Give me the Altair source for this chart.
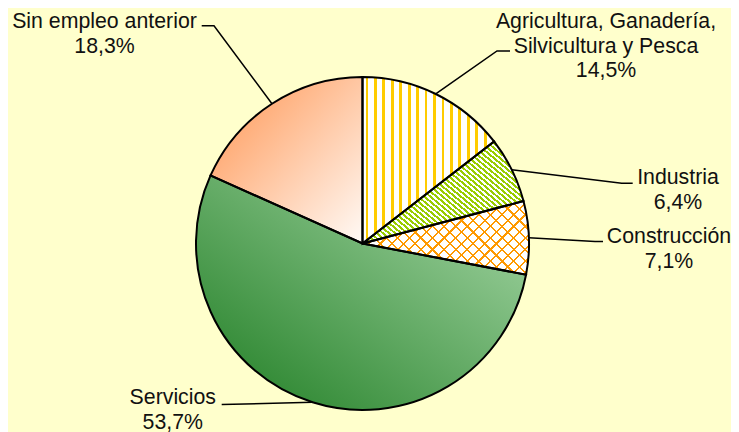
import math
import altair as alt
import pandas as pd

# ---- data ----
keys = ["agri", "ind", "cons", "serv", "sin"]
categories = [
    "Agricultura, Ganadería,\nSilvicultura y Pesca",
    "Industria",
    "Construcción",
    "Servicios",
    "Sin empleo anterior",
]
values = [14.5, 6.4, 7.1, 53.7, 18.3]

# ---- layout / style (chart pixel coordinates) ----
CX, CY, R = 354.5, 235.5, 166.5
label_pos = {
    "agri": (598, 20),
    "ind": (670, 176.3),
    "cons": (661, 235.3),
    "serv": (164.8, 396),
    "sin": (96.5, 20),
}
leader_tail = {
    "agri": [(489, 43), (502, 43)],
    "ind": [(613.7, 175.3), (624.7, 175.3)],
    "cons": [(587, 233.5), (595, 233.5)],
    "serv": [(213.7, 396.5)],
    "sin": [(206, 17.7), (193.7, 17.7)],
}
FONT = "Liberation Sans"
BG = "#FFFFCC"

df = pd.DataFrame({"key": keys, "cat": categories, "value": values})
df["end"] = df["value"].cumsum()
df["start"] = df["end"] - df["value"]
df["label"] = [
    f"{c}\n{v:.1f}".replace(".", ",") + "%" for c, v in zip(categories, values)
]


def ang(p):
    return p / 100.0 * 2 * math.pi


def arc_bbox(a0, a1):
    pts = [(0.0, 0.0)]
    for a in (a0, a1):
        pts.append((R * math.sin(a), -R * math.cos(a)))
    for c in (0, math.pi / 2, math.pi, 1.5 * math.pi, 2 * math.pi):
        if a0 < c < a1:
            pts.append((R * math.sin(c), -R * math.cos(c)))
    xs = [p[0] for p in pts]
    ys = [p[1] for p in pts]
    return max(xs) - min(xs), max(ys) - min(ys)


def stripes(key, normal, period, width, fg, bg, offset0=0.0):
    row = df[df.key == key].iloc[0]
    W, H = arc_bbox(ang(row.start), ang(row.end))
    nx, ny = normal
    n = math.hypot(nx, ny)
    nx, ny = nx / n, ny / n
    A, B = nx * W, ny * H
    x1 = 0.0 if nx >= 0 else 1.0
    y1 = 0.0 if ny >= 0 else 1.0
    k = (abs(A) + abs(B)) / (A * A + B * B)
    x2, y2 = x1 + k * A, y1 + k * B
    L = abs(A) + abs(B)
    stops = [(0.0, bg)]
    p = offset0
    while p < L:
        s = max(0.0, p / L)
        e = min(1.0, (p + width) / L)
        stops += [(s, bg), (s, fg), (e, fg), (e, bg)]
        p += period
    stops.append((1.0, bg))
    return alt.LinearGradient(
        gradient="linear",
        stops=[alt.GradientStop(offset=o, color=c) for o, c in stops],
        x1=x1, y1=y1, x2=x2, y2=y2,
    )


fills = {
    "agri": [stripes("agri", (1, 0), 8.45, 2.8, "#FFCC00", "#FFFFFF", 3.0)],
    "ind": [stripes("ind", (5, -6), 3.9, 2.0, "#99CC00", "#FFFFFF", 0.5)],
    "cons": [
        stripes("cons", (1, 1), 8.2, 1.5, "#FF9900", "#FFFFFF", 1.0),
        stripes("cons", (1, -1), 8.2, 1.5, "#FF9900", "rgba(255,255,255,0)", 1.0),
    ],
    "serv": [alt.LinearGradient(
        gradient="linear",
        stops=[alt.GradientStop(offset=0, color="#1E7D22"),
               alt.GradientStop(offset=1, color="#ABDAAB")],
        x1=0, y1=1, x2=1, y2=0)],
    "sin": [alt.LinearGradient(
        gradient="linear",
        stops=[alt.GradientStop(offset=0, color="#FF9450"),
               alt.GradientStop(offset=1, color="#FFFAF6")],
        x1=0, y1=0, x2=1, y2=1)],
}

theta_scale = alt.Scale(domain=[0, 100], range=[0, 2 * math.pi])
base = alt.Chart(df)
enc = dict(
    theta=alt.Theta("start:Q", scale=theta_scale, stack=None),
    theta2="end:Q",
    x=alt.value(CX),
    y=alt.value(CY),
)

layers = []
for k in keys:
    for f in fills[k]:
        layers.append(
            base.transform_filter(alt.datum.key == k)
            .mark_arc(radius=R, fill=f, strokeWidth=0)
            .encode(**enc)
        )

outline = base.mark_arc(radius=R, fillOpacity=0, stroke="black", strokeWidth=2).encode(**enc)

# leader lines
rows = []
for k in keys:
    row = df[df.key == k].iloc[0]
    a = ang((row.start + row.end) / 2)
    pts = [(CX + R * math.sin(a), CY - R * math.cos(a))] + leader_tail[k]
    for i, (x, y) in enumerate(pts):
        rows.append({"key": k, "seq": i, "x": x, "y": y})
lines_df = pd.DataFrame(rows)
lines = alt.Chart(lines_df).mark_line(color="black", strokeWidth=1.5).encode(
    x=alt.X("x:Q", scale=None, axis=None),
    y=alt.Y("y:Q", scale=None, axis=None),
    detail="key:N",
    order="seq:Q",
)

lab_df = pd.DataFrame({
    "key": keys,
    "label": df["label"],
    "x": [label_pos[k][0] for k in keys],
    "y": [label_pos[k][1] for k in keys],
})
labels = alt.Chart(lab_df).mark_text(
    align="center", baseline="alphabetic", lineBreak="\n", lineHeight=24.5,
    font=FONT, fontSize=21.3, color="#111111",
).encode(
    x=alt.X("x:Q", scale=None, axis=None),
    y=alt.Y("y:Q", scale=None, axis=None),
    text="label:N",
)

chart = alt.layer(*layers, outline, lines, labels).properties(
    width=723, height=424,
    autosize=alt.AutoSizeParams(type="none"),
    padding=0,
    background=BG,
).configure_view(stroke=None)

chart.save("out.html", embed_options={"renderer": "svg", "actions": False})
